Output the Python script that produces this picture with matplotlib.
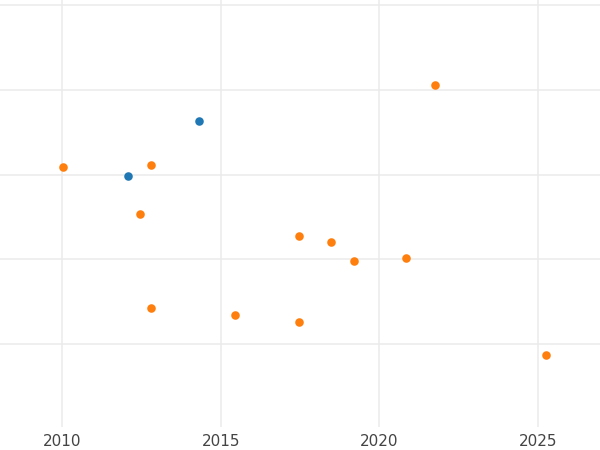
import matplotlib
matplotlib.use('Agg')
import matplotlib.pyplot as plt

# series values
blue_x = [2012.08, 2014.32]
blue_y = [2.98, 3.63]

orange_x = [2010.03, 2012.80, 2012.46, 2017.47, 2018.48, 2019.20, 2020.84,
            2021.75, 2012.80, 2015.45, 2017.47, 2025.25]
orange_y = [3.09, 3.11, 2.53, 2.28, 2.21, 1.98, 2.02,
            4.06, 1.43, 1.34, 1.26, 0.87]

xticks = [2010, 2015, 2020, 2025]
yticks = [1, 2, 3, 4, 5]

fig = plt.figure(figsize=(6, 4.5), dpi=100)
ax = fig.add_axes([0, 0.051, 1, 0.949])

ax.scatter(blue_x, blue_y, s=38, color='#1f77b4', zorder=3, linewidths=0)
ax.scatter(orange_x, orange_y, s=38, color='#ff7f0e', zorder=3, linewidths=0)

ax.set_xlim(2008.04, 2026.96)
ax.set_ylim(0.02, 5.063)
ax.set_xticks(xticks)
ax.set_xticklabels([str(t) for t in xticks])
ax.set_yticks(yticks)
ax.set_yticklabels([])

ax.grid(True, color='#ebebeb', linewidth=1.1)
ax.set_axisbelow(True)
for s in ax.spines.values():
    s.set_visible(False)
ax.tick_params(axis='both', length=0, labelsize=11, labelcolor='#444444', pad=5)

fig.savefig('out.png', dpi=100)
